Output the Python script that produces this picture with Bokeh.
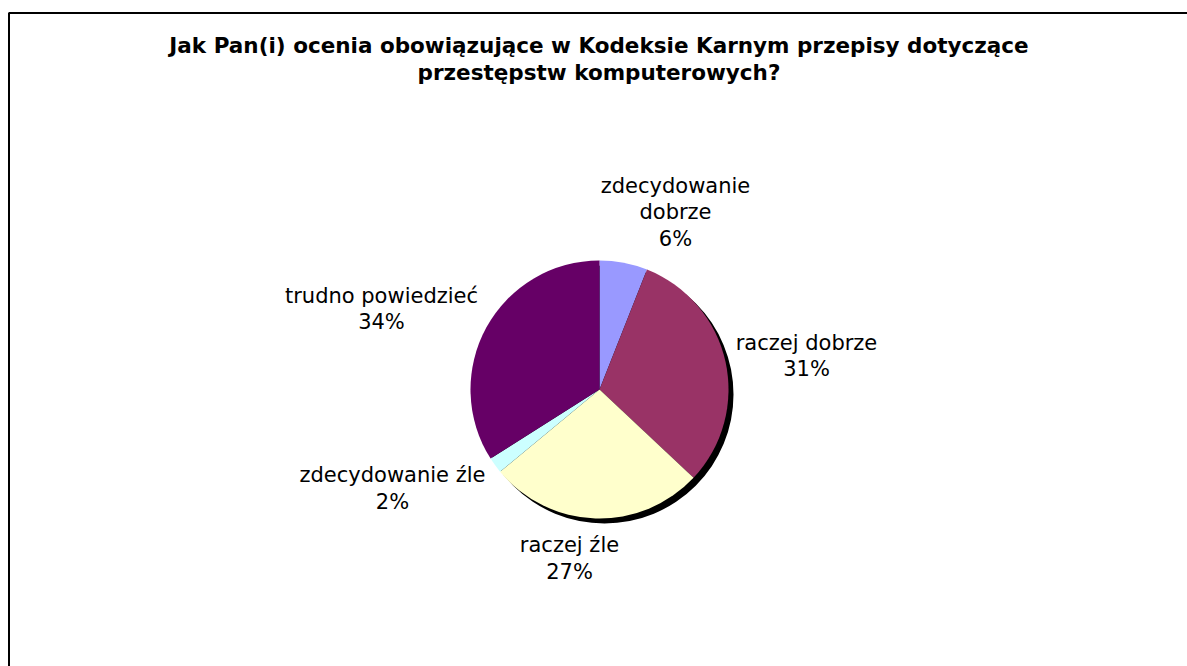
import math
from bokeh.plotting import figure
from bokeh.models import Range1d, ColumnDataSource
from bokeh.core.properties import value
from bokeh.embed import file_html
from bokeh.resources import INLINE

# ---- data ----
categories = ["zdecydowanie dobrze", "raczej dobrze", "raczej źle", "zdecydowanie źle", "trudno powiedzieć"]
label_texts = ["zdecydowanie\ndobrze", "raczej dobrze", "raczej źle", "zdecydowanie źle", "trudno powiedzieć"]
percents = [6, 31, 27, 2, 34]
colors = ["#9999FF", "#993366", "#FFFFCC", "#CCFFFF", "#660066"]
title_text = "Jak Pan(i) ocenia obowiązujące w Kodeksie Karnym przepisy dotyczące\nprzestępstw komputerowych?"

# ---- layout (pixels) ----
W, H = 1187, 666
cx, cy = 599, H - 389   # pie centre in data units (1 unit = 1 px)
R = 129
shadow_dx, shadow_dy = 5, -5
# label block offsets from pie centre (x right, y down in screen px)
label_offsets = [(76, -177), (207, -33.5), (-30, 169), (-207, 99), (-218, -80.5)]

total = sum(percents)
starts, ends = [], []
cum = 0.0
for v in percents:
    starts.append(math.pi / 2 - 2 * math.pi * cum / total)
    cum += v
    ends.append(math.pi / 2 - 2 * math.pi * cum / total)

src = ColumnDataSource(dict(
    x=[cx] * len(percents), y=[cy] * len(percents),
    start=starts, end=ends, color=colors, cat=categories,
))

p = figure(width=W, height=H, x_range=Range1d(0, W), y_range=Range1d(0, H),
           output_backend="svg", toolbar_location=None,
           x_axis_location=None, y_axis_location=None, min_border=0)
p.grid.visible = False
p.outline_line_color = None
p.background_fill_color = "white"
p.border_fill_color = "white"

# chart-area border (top and left edges visible, others outside the window)
p.quad(left=[8.5], right=[W + 200], top=[H - 12.5], bottom=[-200],
       fill_color=None, line_color="#000000", line_width=2)

# shadow
p.wedge(x=[cx + shadow_dx], y=[cy + shadow_dy], radius=R, start_angle=[0], end_angle=[2 * math.pi],
        fill_color="#000000", line_color=None)

# pie
p.wedge(x="x", y="y", radius=R, start_angle="start", end_angle="end", direction="clock",
        fill_color="color", line_color=None, source=src)

# labels
lx = [cx + dx for dx, dy in label_offsets]
ly = [cy - dy for dx, dy in label_offsets]
ltxt = [f"{t}\n{v}%" for t, v in zip(label_texts, percents)]
p.text(x=lx, y=ly, text=ltxt, text_align="center", text_baseline="middle",
       text_font=value("DejaVu Sans"), text_font_size="21px", text_color="#000000",
       text_line_height=1.1)

# title
p.text(x=[598.5], y=[H - 58.5], text=[title_text], text_align="center", text_baseline="middle",
       text_font=value("DejaVu Sans"), text_font_style="bold", text_font_size="21.5px",
       text_color="#000000", text_line_height=1.05)

open("out.html", "w").write(file_html(p, INLINE))
